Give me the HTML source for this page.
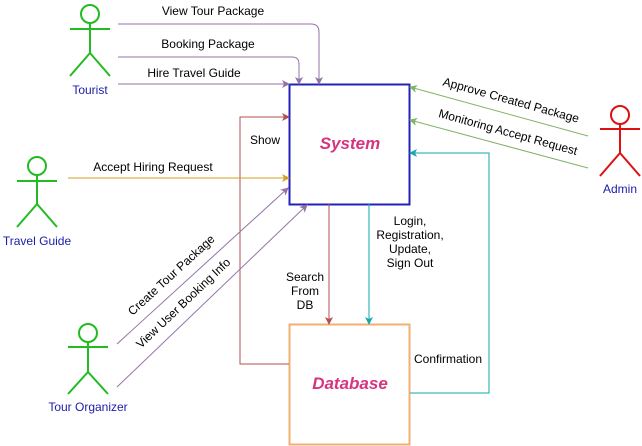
<!DOCTYPE html>
<html><head><style>body{margin:0;background:#fff;overflow:hidden}svg{display:block}text{font-family:"Liberation Sans",sans-serif;font-size:12px;fill:#000}</style></head><body>
<svg width="642" height="446" viewBox="0 0 642 446" xmlns="http://www.w3.org/2000/svg">
<defs>
<marker id="ap" markerWidth="8" markerHeight="8" refX="7" refY="4" orient="auto" markerUnits="userSpaceOnUse"><path d="M0,0L8,4L0,8L2,4Z" fill="#9673a6"/></marker>
<marker id="ab" markerWidth="8" markerHeight="8" refX="7" refY="4" orient="auto" markerUnits="userSpaceOnUse"><path d="M0,0L8,4L0,8L2,4Z" fill="#b05050"/></marker>
<marker id="ay" markerWidth="8" markerHeight="8" refX="7" refY="4" orient="auto" markerUnits="userSpaceOnUse"><path d="M0,0L8,4L0,8L2,4Z" fill="#d6a020"/></marker>
<marker id="ag" markerWidth="8" markerHeight="8" refX="7" refY="4" orient="auto" markerUnits="userSpaceOnUse"><path d="M0,0L8,4L0,8L2,4Z" fill="#82b366"/></marker>
<marker id="at" markerWidth="8" markerHeight="8" refX="7" refY="4" orient="auto" markerUnits="userSpaceOnUse"><path d="M0,0L8,4L0,8L2,4Z" fill="#12aaaa"/></marker>
</defs>
<rect x="289.5" y="84.5" width="120" height="120" fill="#fff" stroke="#2222bb" stroke-width="2"/>
<rect x="289.5" y="324.5" width="120" height="120" fill="#fff" stroke="#f0b070" stroke-width="2"/>
<text x="350" y="149" text-anchor="middle" style="font-size:17px;font-weight:bold;font-style:italic;fill:#d6347f">System</text>
<text x="350" y="389" text-anchor="middle" style="font-size:17px;font-weight:bold;font-style:italic;fill:#d6347f">Database</text>
<g fill="none" stroke="#22bb22" stroke-width="2">
<circle cx="90" cy="14" r="9"/><path d="M70,29H110M90,23V53M70,76L90,53L110,76"/>
<circle cx="37" cy="166" r="9"/><path d="M17,181H57M37,175V204M17,227L37,204L57,227"/>
<circle cx="88" cy="333" r="9"/><path d="M68,347H108M88,342V372M68,394L88,372L108,394"/>
</g>
<g fill="none" stroke="#dd1111" stroke-width="2"><circle cx="620" cy="115" r="9"/><path d="M600,129H640M620,124V153M600,176L620,153L640,176"/></g>
<text x="90" y="94" text-anchor="middle" style="fill:#1c1ca8">Tourist</text>
<text x="37" y="245" text-anchor="middle" style="fill:#1c1ca8">Travel Guide</text>
<text x="88" y="411" text-anchor="middle" style="fill:#1c1ca8">Tour Organizer</text>
<text x="620" y="193" text-anchor="middle" style="fill:#1c1ca8">Admin</text>
<g fill="none" stroke-width="1">
<path d="M118,24H311Q319,24 319,32V84" stroke="#9673a6" marker-end="url(#ap)"/>
<path d="M118,57H292Q299,57 299,64V84" stroke="#9673a6" marker-end="url(#ap)"/>
<path d="M118,84H289" stroke="#9673a6" marker-end="url(#ap)"/>
<path d="M289,364H240V117H289" stroke="#b05050" marker-end="url(#ab)"/>
<path d="M68,178H289" stroke="#d6a020" marker-end="url(#ay)"/>
<path d="M117,344L288,188" stroke="#9673a6" marker-end="url(#ap)"/>
<path d="M117,387L307,205" stroke="#9673a6" marker-end="url(#ap)"/>
<path d="M329,204V324" stroke="#b05050" marker-end="url(#ab)"/>
<path d="M369,204V324" stroke="#12aaaa" marker-end="url(#at)"/>
<path d="M410,393H489V153H410" stroke="#12aaaa" marker-end="url(#at)"/>
<path d="M588,136L410,87" stroke="#82b366" marker-end="url(#ag)"/>
<path d="M588,168L410,120" stroke="#82b366" marker-end="url(#ag)"/>
</g>
<text x="213" y="15" text-anchor="middle">View Tour Package</text>
<text x="208" y="48" text-anchor="middle">Booking Package</text>
<text x="194" y="77" text-anchor="middle">Hire Travel Guide</text>
<text x="153" y="171" text-anchor="middle">Accept Hiring Request</text>
<text x="265" y="144" text-anchor="middle">Show</text>
<text x="305" y="281" text-anchor="middle">Search</text>
<text x="305" y="295" text-anchor="middle">From</text>
<text x="305" y="309" text-anchor="middle">DB</text>
<text x="410" y="225" text-anchor="middle">Login,</text>
<text x="410" y="239" text-anchor="middle">Registration,</text>
<text x="410" y="253" text-anchor="middle">Update,</text>
<text x="410" y="267" text-anchor="middle">Sign Out</text>
<text x="448" y="363" text-anchor="middle">Confirmation</text>
<text transform="translate(510,104) rotate(15.5)" text-anchor="middle">Approve Created Package</text>
<text transform="translate(507,136) rotate(15.5)" text-anchor="middle">Monitoring Accept Request</text>
<text transform="translate(174,278) rotate(-42.5)" text-anchor="middle">Create Tour Package</text>
<text transform="translate(186,306) rotate(-43.5)" text-anchor="middle">View User Booking Info</text>
</svg>
</body></html>
